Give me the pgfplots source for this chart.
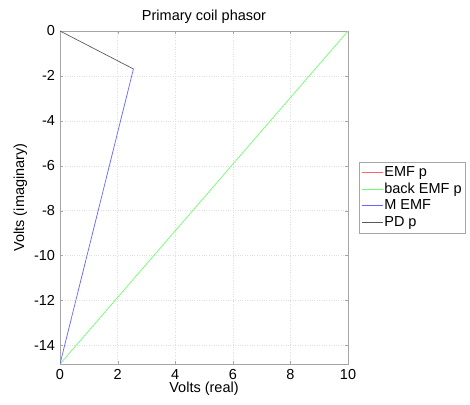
\documentclass[border=0pt]{standalone}
\usepackage{fontspec}
\setmainfont{Liberation Sans}
\usepackage{pgfplots}
\pgfplotsset{compat=1.18}
\definecolor{cr}{RGB}{255,100,100}
\definecolor{cg}{RGB}{110,255,110}
\definecolor{cb}{RGB}{100,100,255}
\definecolor{ck}{RGB}{90,90,90}
\begin{document}
\fontsize{14.5}{17}\selectfont
\begin{tikzpicture}[x=1pt,y=1pt]
\useasboundingbox (-60,-40) rectangle (410,364);
\begin{axis}[
  at={(0,0)}, anchor=south west,
  scale only axis, width=288pt, height=333pt,
  xmin=0, xmax=10, ymin=-14.83, ymax=0,
  xtick={0,2,4,6,8,10}, ytick={-14,-12,-10,-8,-6,-4,-2,0},
  tick align=inside,
  major tick length=3pt,
  axis line style={gray!70, line width=0.8pt},
  tick style={gray!70},
  grid=major,
  grid style={dotted, gray!25},
  title={Primary coil phasor},
  xlabel={Volts (real)}, ylabel={Volts (imaginary)},
  /pgf/number format/assume math mode=true,
  ticklabel style={font=\fontsize{14.5}{17}\selectfont},
  label style={font=\fontsize{14.5}{17}\selectfont},
  title style={font=\fontsize{14.5}{17}\selectfont, yshift=-4pt},
  xlabel style={yshift=7pt},
  ylabel style={yshift=-3pt},
  legend style={at={(1.038,0.607)}, anchor=north west, draw=gray!70,
    font=\fontsize{14.5}{17}\selectfont, row sep=1pt, inner sep=3pt,
    nodes={inner sep=1pt, text height=10.5pt, text depth=3pt}},
  legend cell align=left,
  legend image post style={xscale=1.2},
]
\addplot[color=cr, line width=0.7pt] coordinates {(0,0) (0,0)};
\addlegendentry{EMF p}
\addplot[color=cg, line width=0.7pt] coordinates {(0,-14.83) (10,0)};
\addlegendentry{back EMF p}
\addplot[color=cb, line width=0.7pt] coordinates {(0,-14.83) (2.55,-1.69)};
\addlegendentry{M EMF}
\addplot[color=ck, line width=0.7pt] coordinates {(2.55,-1.69) (0,0)};
\addlegendentry{PD p}
\end{axis}
\end{tikzpicture}
\end{document}
